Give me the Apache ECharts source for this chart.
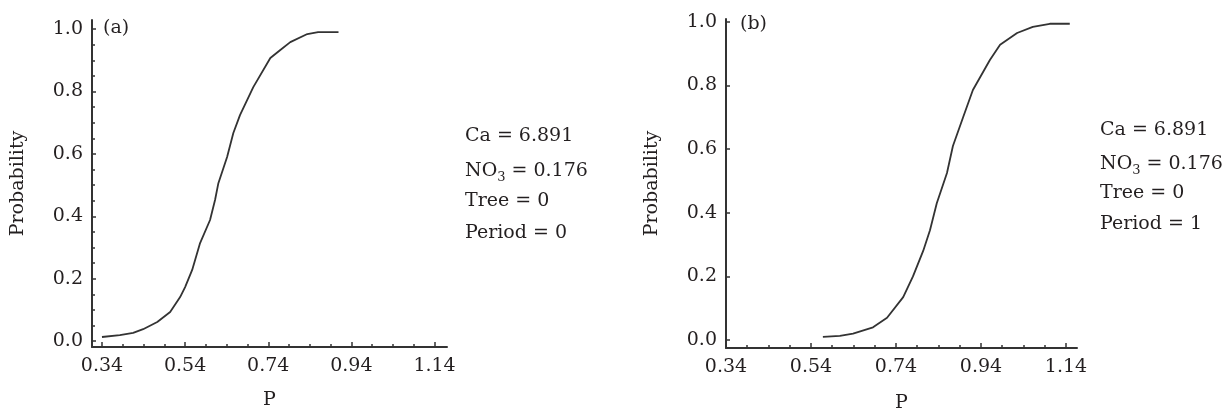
<!DOCTYPE html>
<html>
<head>
<meta charset="utf-8">
<title>Probability vs P</title>
<script src="https://cdn.jsdelivr.net/npm/echarts@6/dist/echarts.min.js"></script>
<style>
  html, body { margin: 0; padding: 0; background: #fff; }
  #chart { width: 1225px; height: 410px; }
</style>
</head>
<body>
<div id="chart"></div>
<script>
// Panel (a): Period = 0
const pA = [0.34, 0.383, 0.415, 0.439, 0.473, 0.504, 0.528, 0.54, 0.557, 0.576, 0.6, 0.612, 0.62, 0.641, 0.656, 0.672, 0.704, 0.745, 0.769, 0.793, 0.834, 0.86, 0.909]
const probA = [0.013, 0.019, 0.026, 0.038, 0.061, 0.093, 0.141, 0.173, 0.228, 0.314, 0.388, 0.452, 0.506, 0.59, 0.667, 0.724, 0.814, 0.907, 0.933, 0.958, 0.984, 0.99, 0.99]

// Panel (b): Period = 1
const pB = [0.568, 0.608, 0.639, 0.686, 0.719, 0.757, 0.78, 0.804, 0.82, 0.836, 0.86, 0.874, 0.898, 0.921, 0.961, 0.985, 1.025, 1.062, 1.102, 1.149]
const probB = [0.01, 0.013, 0.02, 0.04, 0.07, 0.135, 0.2, 0.28, 0.345, 0.43, 0.525, 0.61, 0.7, 0.786, 0.88, 0.928, 0.965, 0.984, 0.994, 0.994]

// tick labels
const xTicks = [0.34, 0.54, 0.74, 0.94, 1.14]
const xMinorTicks = [0.39, 0.44, 0.49, 0.59, 0.64, 0.69, 0.79, 0.84, 0.89, 0.99, 1.04, 1.09]
const yTicks = [0, 0.2, 0.4, 0.6, 0.8, 1.0]
const yMinorTicks = [0.05, 0.1, 0.15, 0.25, 0.3, 0.35, 0.45, 0.5, 0.55, 0.65, 0.7, 0.75, 0.85, 0.9, 0.95]

// annotation lines
const notesA = ['Ca = 6.891', 'NO3 = 0.176', 'Tree = 0', 'Period = 0']
const notesB = ['Ca = 6.891', 'NO3 = 0.176', 'Tree = 0', 'Period = 1']

const FONT = 'DejaVu Serif'
const INK = '#231f20'
const LINE = '#333'

const chart = echarts.init(document.getElementById('chart'))

// main value axis with labels + major ticks
function mainAxis(grid, min, max, ticks, digits, name, nameGap, isX) {
  return {
    type: 'value',
    gridIndex: grid,
    position: isX ? 'bottom' : 'left',
    min: min,
    max: max,
    name: name,
    nameLocation: 'middle',
    nameGap: nameGap,
    nameTextStyle: { fontFamily: FONT, fontSize: 19, color: INK },
    axisLine: { show: true, onZero: false, lineStyle: { color: '#333', width: 2 } },
    axisTick: { show: true, inside: true, length: isX ? 5 : 4, customValues: ticks, lineStyle: { color: '#333', width: 1.5 } },
    axisLabel: {
      customValues: ticks,
      margin: isX ? 10 : 9,
      fontFamily: FONT,
      fontSize: 19,
      color: INK,
      formatter: v => v.toFixed(digits)
    },
    splitLine: { show: false }
  }
}

// overlay axis that only draws the small ticks
function minorAxis(grid, min, max, ticks, isX) {
  return {
    type: 'value',
    gridIndex: grid,
    position: isX ? 'bottom' : 'left',
    min: min,
    max: max,
    axisLine: { show: false, onZero: false },
    axisTick: { show: true, inside: true, length: 3, customValues: ticks, lineStyle: { color: '#333', width: 1.5 } },
    axisLabel: { show: false },
    splitLine: { show: false }
  }
}

// note block drawn beside each panel
function notes(lines, x, y0, step) {
  return lines.map((t, i) => {
    const rich = t.startsWith('NO3')
    return {
      type: 'text',
      x: x,
      y: y0 + i * step + (rich ? 3 : 0),
      style: {
        text: rich ? '{n|NO}{s|3}{n|' + t.slice(3) + '}' : t,
        rich: rich ? {
          n: { fontFamily: FONT, fontSize: 19, fill: INK, color: INK },
          s: { fontFamily: FONT, fontSize: 13, fill: INK, color: INK, padding: [12, 0, 0, 0] }
        } : undefined,
        font: '19px "' + FONT + '"',
        fill: INK,
        align: 'left',
        verticalAlign: 'middle',
        textAlign: 'left',
        textVerticalAlign: 'middle'
      }
    }
  })
}

const option = {
  animation: false,
  backgroundColor: '#fff',
  grid: [
    { left: 92, top: 20, width: 355, height: 327, outerBoundsMode: 'none' },
    { left: 726, top: 19, width: 351, height: 329, outerBoundsMode: 'none' }
  ],
  xAxis: [
    mainAxis(0, 0.316, 1.17, xTicks, 2, 'P', 44, true),
    mainAxis(1, 0.34, 1.166, xTicks, 2, 'P', 46, true),
    minorAxis(0, 0.316, 1.17, xMinorTicks, true),
    minorAxis(1, 0.34, 1.166, xMinorTicks, true)
  ],
  yAxis: [
    mainAxis(0, -0.019, 1.029, yTicks, 1, 'Probability', 64, false),
    mainAxis(1, -0.025, 1.009, yTicks, 1, 'Probability', 64, false),
    minorAxis(0, -0.019, 1.029, yMinorTicks, false)
  ],
  series: [
    {
      name: 'Period 0',
      type: 'line',
      xAxisIndex: 0,
      yAxisIndex: 0,
      data: pA.map((p, i) => [p, probA[i]]),
      showSymbol: false,
      lineStyle: { color: LINE, width: 1.8 }
    },
    {
      name: 'Period 1',
      type: 'line',
      xAxisIndex: 1,
      yAxisIndex: 1,
      data: pB.map((p, i) => [p, probB[i]]),
      showSymbol: false,
      lineStyle: { color: LINE, width: 1.8 }
    }
  ],
  graphic: [
    { type: 'text', x: 103, y: 28, style: { text: '(a)', font: '19px "' + FONT + '"', fill: INK, align: 'left', verticalAlign: 'middle', textAlign: 'left', textVerticalAlign: 'middle' } },
    { type: 'text', x: 740, y: 24, style: { text: '(b)', font: '19px "' + FONT + '"', fill: INK, align: 'left', verticalAlign: 'middle', textAlign: 'left', textVerticalAlign: 'middle' } },
    ...notes(notesA, 465, 136, 32.5),
    ...notes(notesB, 1100, 130, 31.5)
  ]
}

chart.setOption(option)
</script>
</body>
</html>
